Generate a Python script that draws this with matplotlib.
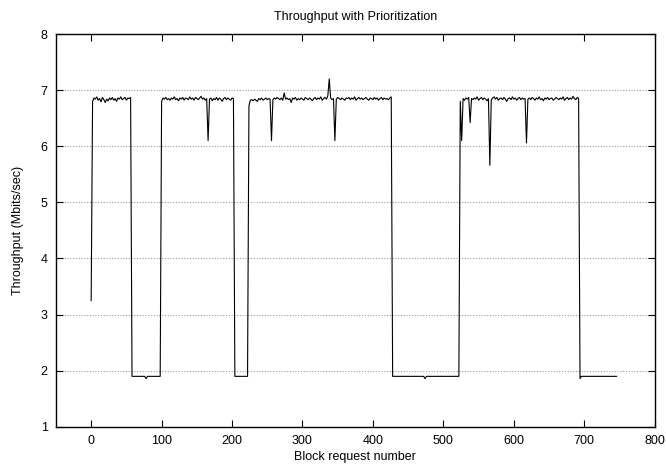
import numpy as np
import matplotlib
matplotlib.use('Agg')
import matplotlib.pyplot as plt

plt.rcParams['font.family'] = ['Liberation Sans', 'DejaVu Sans']

# throughput samples, one every 2 block requests, starting at block 0
start_value = [3.25]
high_a = [6.80, 6.86, 6.84, 6.88, 6.82, 6.85, 6.79, 6.87, 6.83, 6.78,
          6.84, 6.81, 6.86, 6.83, 6.87, 6.82, 6.85, 6.80, 6.86, 6.84,
          6.88, 6.83, 6.85, 6.87, 6.82, 6.86, 6.85, 6.87]
low_b = [1.90, 1.90, 1.90, 1.90, 1.90, 1.90, 1.90, 1.90, 1.90, 1.90,
         1.86, 1.90, 1.90, 1.90, 1.90, 1.90, 1.90, 1.90, 1.90, 1.90, 1.90]
high_b = [6.80, 6.86, 6.84, 6.87, 6.83, 6.85, 6.82, 6.86, 6.84, 6.88,
          6.83, 6.85, 6.81, 6.86, 6.84, 6.87, 6.82, 6.86, 6.85, 6.83,
          6.88, 6.84, 6.86, 6.82, 6.87, 6.85, 6.83, 6.86, 6.89, 6.84,
          6.86, 6.82, 6.85, 6.10, 6.84, 6.86, 6.81, 6.85, 6.83, 6.87,
          6.82, 6.86, 6.84, 6.80, 6.85, 6.87, 6.83, 6.86, 6.84, 6.82,
          6.86, 6.85]
low_c = [1.90, 1.90, 1.90, 1.90, 1.90, 1.90, 1.90, 1.90, 1.90, 1.90]
high_c = [6.72, 6.82, 6.83, 6.81, 6.84, 6.82, 6.80, 6.85, 6.83, 6.86,
          6.82, 6.84, 6.86, 6.83, 6.85, 6.84, 6.10, 6.83, 6.86, 6.84,
          6.87, 6.85, 6.83, 6.86, 6.82, 6.95, 6.84, 6.86, 6.83, 6.85,
          6.78, 6.86, 6.84, 6.87, 6.82, 6.85, 6.83, 6.86, 6.84, 6.82,
          6.87, 6.85, 6.83, 6.86, 6.84, 6.81, 6.85, 6.87, 6.83, 6.86,
          6.84, 6.88, 6.82, 6.85, 6.87, 6.84, 6.90, 7.20, 6.86, 6.83,
          6.85, 6.10, 6.84, 6.87, 6.85, 6.83, 6.86, 6.84, 6.82, 6.86,
          6.85, 6.87, 6.83, 6.86, 6.84, 6.88, 6.82, 6.85, 6.87, 6.84,
          6.86, 6.83, 6.85, 6.87, 6.84, 6.82, 6.86, 6.85, 6.83, 6.87,
          6.84, 6.86, 6.82, 6.85, 6.87, 6.83, 6.86, 6.84, 6.85, 6.83,
          6.86, 6.88]
low_d = [1.90, 1.90, 1.90, 1.90, 1.90, 1.90, 1.90, 1.90, 1.90, 1.90,
         1.90, 1.90, 1.90, 1.90, 1.90, 1.90, 1.90, 1.90, 1.90, 1.90,
         1.90, 1.90, 1.90, 1.86, 1.90, 1.90, 1.90, 1.90, 1.90, 1.90,
         1.90, 1.90, 1.90, 1.90, 1.90, 1.90, 1.90, 1.90, 1.90, 1.90,
         1.90, 1.90, 1.90, 1.90, 1.90, 1.90, 1.90, 1.90]
high_d = [6.80, 6.10, 6.85, 6.82, 6.86, 6.84, 6.87, 6.42, 6.85, 6.83,
          6.86, 6.84, 6.88, 6.82, 6.85, 6.87, 6.83, 6.86, 6.84, 6.81,
          6.85, 5.66, 6.83, 6.86, 6.88, 6.84, 6.87, 6.82, 6.85, 6.86,
          6.83, 6.87, 6.84, 6.80, 6.85, 6.86, 6.83, 6.88, 6.84, 6.86,
          6.82, 6.85, 6.87, 6.83, 6.86, 6.84, 6.85, 6.06, 6.84, 6.86,
          6.83, 6.87, 6.85, 6.82, 6.86, 6.84, 6.88, 6.83, 6.85, 6.81,
          6.86, 6.84, 6.87, 6.83, 6.85, 6.86, 6.82, 6.84, 6.87, 6.85,
          6.83, 6.86, 6.84, 6.88, 6.82, 6.85, 6.87, 6.83, 6.86, 6.84,
          6.89, 6.85, 6.83, 6.87, 6.85]
low_e = [1.86, 1.90, 1.90, 1.90, 1.90, 1.90, 1.90, 1.90, 1.90, 1.90,
         1.90, 1.90, 1.90, 1.90, 1.90, 1.90, 1.90, 1.90, 1.90, 1.90,
         1.90, 1.90, 1.90, 1.90, 1.90, 1.90, 1.90]

throughput = (start_value + high_a + low_b + high_b + low_c + high_c
              + low_d + high_d + low_e)
blocks = np.arange(0, 2 * len(throughput), 2)

x_ticks = [0, 100, 200, 300, 400, 500, 600, 700, 800]
y_ticks = [1, 2, 3, 4, 5, 6, 7, 8]

fig = plt.figure(figsize=(6.66, 4.66), dpi=100)
ax = fig.add_axes([0.084, 0.084, 0.899, 0.843])

# dotted grid at the inner y ticks
for y in y_ticks[1:-1]:
    ax.axhline(y, color='#999999', linestyle=(0, (1, 1.5)), linewidth=0.8, zorder=1)

ax.plot(blocks, throughput, color='black', linewidth=0.8, zorder=2)

ax.set_xlim(-50, 800)
ax.set_ylim(1, 8)
ax.set_xticks(x_ticks)
ax.set_yticks(y_ticks)
ax.tick_params(direction='in', top=True, right=True, length=5, width=0.8,
               labelsize=9, pad=6)
for s in ax.spines.values():
    s.set_linewidth(1.0)

ax.set_title('Throughput with Prioritization', fontsize=9, pad=10)
ax.set_xlabel('Block request number', fontsize=9, labelpad=3)
ax.set_ylabel('Throughput (Mbits/sec)', fontsize=9, labelpad=12)

fig.savefig('out.png', dpi=100)
